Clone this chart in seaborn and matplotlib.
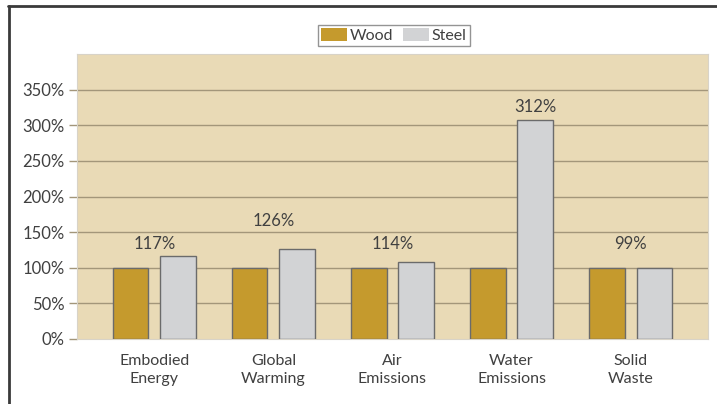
import pandas as pd
import matplotlib.pyplot as plt
import seaborn as sns
from matplotlib.patches import Patch

# data (wood = 100% baseline)
categories = ["Embodied\nEnergy", "Global\nWarming", "Air\nEmissions",
              "Water\nEmissions", "Solid\nWaste"]
wood = [100, 100, 100, 100, 100]
steel = [117, 126, 108, 308, 100]
steel_labels = ["117%", "126%", "114%", "312%", "99%"]
y_ticks = [0, 50, 100, 150, 200, 250, 300, 350]

df = pd.DataFrame({
    "category": categories * 2,
    "material": ["Wood"] * 5 + ["Steel"] * 5,
    "value": wood + steel,
})

sns.set_style("white")
plt.rcParams["font.family"] = ["Lato", "DejaVu Sans"]

wood_col = "#C59A2D"
steel_col = "#D2D3D5"
bg_col = "#E9DAB6"
grid_col = "#A3967A"
text_col = "#404040"

fig = plt.figure(figsize=(7.17, 4.04), dpi=100)
ax = fig.add_axes([0.1074, 0.1609, 0.88, 0.7054])
ax.set_facecolor(bg_col)

sns.barplot(data=df, x="category", y="value", hue="material",
            palette={"Wood": wood_col, "Steel": steel_col}, saturation=1,
            width=0.8, gap=0.25, edgecolor="#6b6b6b", linewidth=1.0,
            legend=False, ax=ax, zorder=3)

ax.set_xlim(-0.65, 4.65)
ax.set_ylim(0, 400)
ax.set_yticks(y_ticks)
ax.set_yticklabels([f"{t}%" for t in y_ticks])
for t in y_ticks[1:]:
    ax.axhline(t, color=grid_col, lw=1.0, zorder=1)

ax.tick_params(axis="y", length=6, width=1, color=grid_col, pad=3,
               labelsize=12, labelcolor=text_col, left=True)
ax.tick_params(axis="x", length=0, pad=11, labelsize=11.5, labelcolor=text_col)
for lbl in ax.get_xticklabels():
    lbl.set_linespacing(1.35)
ax.set_xlabel("")
ax.set_ylabel("")
for s in ax.spines.values():
    s.set_color("#D8D3C8")
    s.set_linewidth(0.8)

# value labels (positions as in the original chart)
label_x = [0, 1, 2, 3.2, 4]
label_y = [134, 166, 134, 326, 134]
for x, y, txt in zip(label_x, label_y, steel_labels):
    ax.text(x, y, txt, ha="center", va="center", fontsize=12,
            color=text_col, zorder=4)

handles = [Patch(facecolor=wood_col, edgecolor="none", label="Wood"),
           Patch(facecolor=steel_col, edgecolor="none", label="Steel")]
fig.legend(handles=handles, loc="center", bbox_to_anchor=(0.5495, 0.912),
           ncol=2, frameon=True, fancybox=False, edgecolor="#7a7a7a",
           fontsize=11.5, handlelength=1.6, handleheight=0.9,
           handletextpad=0.2, columnspacing=0.6, borderpad=0.2,
           labelcolor=text_col)

# outer frame lines (top and left)
fig.add_artist(plt.Line2D([0.012, 0.012], [0, 0.985], color="#3a3a3a", lw=2))
fig.add_artist(plt.Line2D([0.011, 1.0], [0.985, 0.985], color="#3a3a3a", lw=2))

plt.savefig("out.png", dpi=100)
plt.close()
